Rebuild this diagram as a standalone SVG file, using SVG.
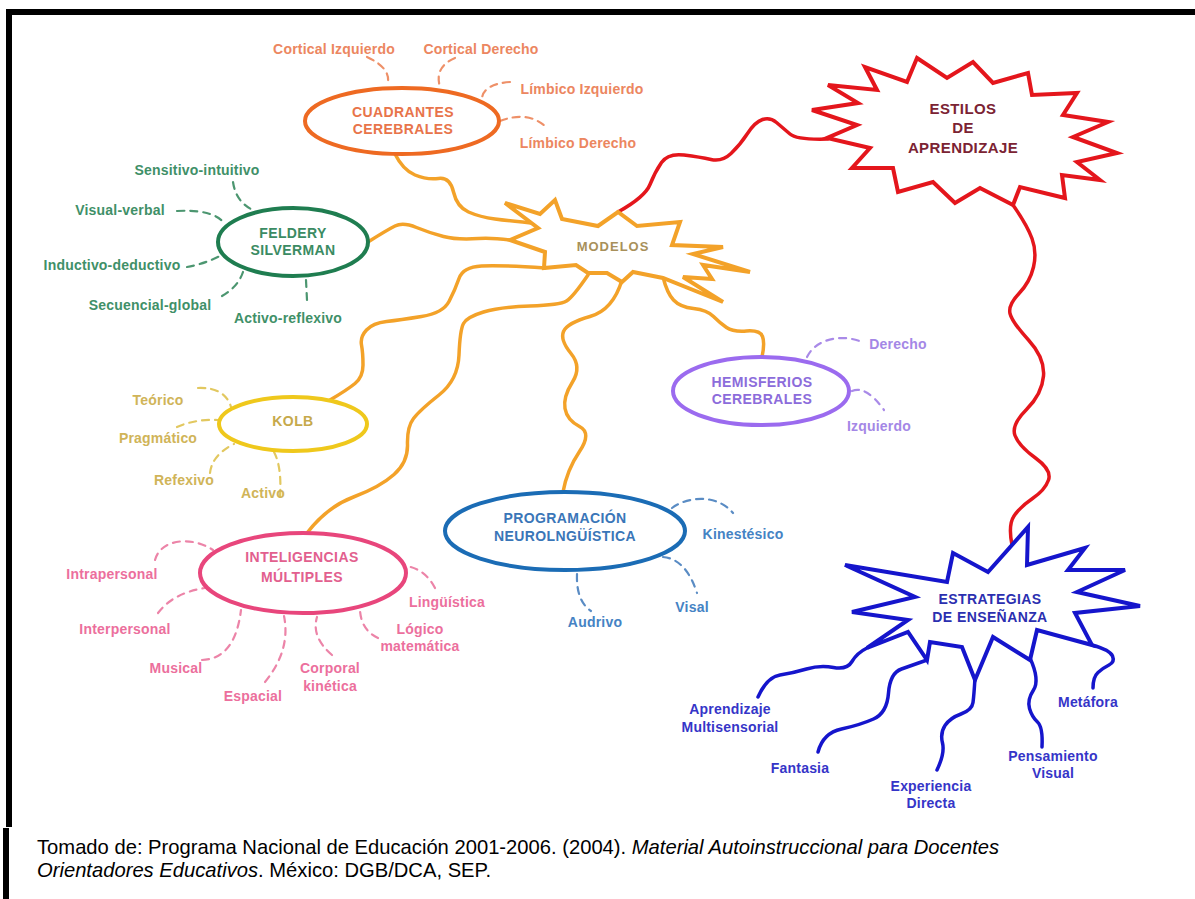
<svg xmlns="http://www.w3.org/2000/svg" width="1195" height="899" viewBox="0 0 1195 899">
<style>
text{font-family:"Liberation Sans",Arial,sans-serif;}
.t{font-weight:bold;font-size:14px;text-anchor:middle;letter-spacing:0.4px}
.l{font-weight:bold;font-size:14px;text-anchor:middle;letter-spacing:0.2px}
.cap{font-size:20.2px;fill:#000}
.w{fill:none;stroke-linecap:round;stroke-linejoin:round}
.o{stroke:#F3A229;stroke-width:3.5}
.r{stroke:#E4161C;stroke-width:3.5}
.b{stroke:#1515CC;stroke-width:3.5}
.d{fill:none;stroke-width:2.2;stroke-dasharray:7 6;stroke-linecap:round}
.el{fill:#fff;stroke-width:4}
</style>
<rect x="0" y="0" width="1195" height="899" fill="#fff"/>
<g id="frame">
<rect x="6" y="9" width="1189" height="6" fill="#000"/>
<rect x="6" y="9" width="6" height="818" fill="#000"/>
<rect x="3" y="828" width="6" height="71" fill="#000"/>
</g>
<g id="connectors">
<path class="w r" d="M618,212 Q645,197 650,184.5 Q655,172 661.5,162.5 Q668,153 684,155 Q700,157 711,159.5 Q722,162 731,153.5 Q740,145 747.5,133.5 Q755,122 762.5,119.5 Q770,117 776.5,122.5 Q783,128 790,134 Q797,140 828,139"/>
<path class="w r" d="M1013,205 Q1027,225 1032,238.5 Q1037,252 1033.5,267 Q1030,282 1019,293.5 Q1008,305 1010,313.5 Q1012,322 1028.5,340 Q1045,358 1043.5,376 Q1042,394 1026.5,409.5 Q1011,425 1015,435.5 Q1019,446 1035.5,458 Q1052,470 1048.5,480 Q1045,490 1032.5,498.5 Q1020,507 1014,516 Q1008,525 1012,545"/>
<path class="w o" d="M395,154 Q403,170 415,175 Q427,180 438.5,178.5 Q450,177 453.5,192 Q457,207 468.5,212 Q480,217 495,219 Q510,221 540,224"/>
<path class="w o" d="M368,242 Q387,230 395,226 Q403,222 416.5,227.5 Q430,233 443.5,236.5 Q457,240 478.5,238.5 Q500,237 540,245"/>
<path class="w o" d="M545,268 Q500,265 481.5,266 Q463,267 459,278.5 Q455,290 449,301.5 Q443,313 421.5,316.5 Q400,320 386.5,321.5 Q373,323 366.5,330 Q360,337 361.5,345 Q363,353 363,365 Q363,377 355,383.5 Q347,390 330,400"/>
<path class="w o" d="M588,275 Q573,297 566.5,301 Q560,305 530,306 Q500,307 483.5,312 Q467,317 463.5,323.5 Q460,330 459,355 Q458,380 439,395 Q420,410 413.5,418.5 Q407,427 407.5,444.5 Q408,462 394,474.5 Q380,487 353.5,497 Q327,507 307,533"/>
<path class="w o" d="M622,280 Q613,310 590,316.5 Q567,323 563.5,331.5 Q560,340 571,353.5 Q582,367 572.5,382 Q563,397 565,408.5 Q567,420 579.5,426.5 Q592,433 579.5,451.5 Q567,470 563,492"/>
<path class="w o" d="M663,277 Q667,293 673.5,300 Q680,307 693.5,308.5 Q707,310 713.5,316.5 Q720,323 726.5,327.5 Q733,332 746.5,331 Q760,330 762.5,336.5 Q765,343 762,357"/>
<path class="w b" d="M867,648 Q857,653 852,661.5 Q847,670 833.5,667.5 Q820,665 806.5,669 Q793,673 780,675 Q767,677 758,697"/>
<path class="w b" d="M927,660 Q913,665 901.5,669 Q890,673 888.5,693 Q887,713 873.5,719 Q860,725 841.5,729 Q823,733 818,752"/>
<path class="w b" d="M975,678 Q974,695 973,702.5 Q972,710 961,714 Q950,718 945,725.5 Q940,733 942.5,743 Q945,753 937,770"/>
<path class="w b" d="M1030,658 Q1040,680 1033.5,690 Q1027,700 1029.5,708.5 Q1032,717 1037.5,722 Q1043,727 1042,747"/>
<path class="w b" d="M1092,645 Q1110,650 1112.5,656 Q1115,662 1109,665 Q1103,668 1098,672.5 Q1093,677 1093,688"/>
<g stroke="#EE9068">
<path class="d" d="M367,57 Q393,69 387,86"/>
<path class="d" d="M455,58 Q434,67 440,87"/>
<path class="d" d="M510,82 Q484,84 482,98"/>
<path class="d" d="M500,121 Q529,110 547,128"/>
</g>
<g stroke="#4C9670">
<path class="d" d="M233,182 Q236,203 255,211"/>
<path class="d" d="M177,211 Q214,209 225,224"/>
<path class="d" d="M187,267 Q204,264 220,256"/>
<path class="d" d="M222,296 Q238,287 243,272"/>
<path class="d" d="M306,280 L307,300"/>
</g>
<g stroke="#E2C860">
<path class="d" d="M198,388 Q225,387 231,407"/>
<path class="d" d="M177,427 Q195,419 218,420"/>
<path class="d" d="M210,473 Q212,455 234,444"/>
<path class="d" d="M280,497 Q282,467 274,452"/>
</g>
<g stroke="#EC84A8">
<path class="d" d="M155,560 C160,540 190,535 213,550"/>
<path class="d" d="M158,613 Q173,593 205,588"/>
<path class="d" d="M202,660 Q235,659 241,610"/>
<path class="d" d="M265,682 Q291,650 284,616"/>
<path class="d" d="M332,655 Q311,637 317,617"/>
<path class="d" d="M378,638 Q361,630 360,610"/>
<path class="d" d="M435,588 Q425,569 406,566"/>
</g>
<g stroke="#5A8CC4">
<path class="d" d="M672,508 C685,498 715,492 733,513"/>
<path class="d" d="M663,557 Q686,559 697,593"/>
<path class="d" d="M577,574 Q576,601 591,611"/>
</g>
<g stroke="#A98AE8">
<path class="d" d="M807,357 C815,340 840,333 862,342"/>
<path class="d" d="M852,391 Q866,385 884,410"/>
</g>
</g>
<g id="estilos">
<polygon points="917,58 947,78 973,62 993,83 1028,73 1032,95 1077,93 1063,115 1108,122 1073,137 1117,153 1077,162 1100,180 1062,175 1065,198 1020,187 1013,205 980,188 955,203 933,182 898,192 893,168 852,168 870,148 827,138 857,125 812,110 858,103 828,85 877,90 865,67 907,82" fill="#fff" stroke="#E4161C" stroke-width="4" stroke-linejoin="miter"/>
<g class="t" fill="#7B2333" style="font-size:15px">
<text x="963" y="114">ESTILOS</text>
<text x="963" y="133">DE</text>
<text x="963" y="153">APRENDIZAJE</text>
</g>
</g>
<g id="modelos">
<polygon points="505,203 540,214 555,200 562,219 598,226 618,212 637,226 680,222 672,245 723,247 693,254 750,272 703,265 712,279 683,277 723,302 663,278 633,272 622,282 607,273 588,273 576,265 544,268 545,252 510,240 538,228" fill="#fff" stroke="#F3A229" stroke-width="4"/>
<text class="t" x="613" y="251" fill="#A8905A" style="font-size:13px;letter-spacing:1px">MODELOS</text>
</g>
<g id="estrategias">
<polygon points="1028,527 1027,565 1085,548 1068,570 1125,570 1077,592 1140,606 1075,613 1092,645 1037,630 1030,660 993,637 975,680 962,647 930,642 927,660 908,632 867,648 908,620 852,612 915,597 845,565 947,582 953,553 988,572" fill="#fff" stroke="#1515CC" stroke-width="4"/>
<g class="t" fill="#2B2FB0">
<text x="990" y="604">ESTRATEGIAS</text>
<text x="990" y="622">DE ENSEÑANZA</text>
</g>
</g>
<g id="cuadrantes">
<ellipse class="el" cx="402" cy="121" rx="97" ry="33" stroke="#EE6A22"/>
<g class="t" fill="#E8744A">
<text x="403" y="117">CUADRANTES</text>
<text x="403" y="134">CEREBRALES</text>
</g>
<g class="l" fill="#EC8660">
<text x="334" y="54">Cortical Izquierdo</text>
<text x="481" y="54">Cortical Derecho</text>
<text x="582" y="94">Límbico Izquierdo</text>
<text x="578" y="148">Límbico Derecho</text>
</g>
</g>
<g id="felder">
<ellipse class="el" cx="293" cy="242" rx="75" ry="34" stroke="#1F7D50"/>
<g class="t" fill="#3B8B63">
<text x="293" y="238">FELDERY</text>
<text x="293" y="255">SILVERMAN</text>
</g>
<g class="l" fill="#3F9068">
<text x="197" y="175">Sensitivo-intuitivo</text>
<text x="120" y="215">Visual-verbal</text>
<text x="112" y="270">Inductivo-deductivo</text>
<text x="150" y="310">Secuencial-global</text>
<text x="288" y="323">Activo-reflexivo</text>
</g>
</g>
<g id="kolb">
<ellipse class="el" cx="293" cy="424" rx="74" ry="27" stroke="#EFC81C"/>
<text class="t" x="293" y="426" fill="#C6A94B">KOLB</text>
<g class="l" fill="#D0B458">
<text x="158" y="405">Teórico</text>
<text x="158" y="443">Pragmático</text>
<text x="184" y="485">Refexivo</text>
<text x="263" y="498">Activo</text>
</g>
</g>
<g id="inteligencias">
<ellipse class="el" cx="303" cy="573" rx="103" ry="40" stroke="#E8467C"/>
<g class="t" fill="#E2608E">
<text x="302" y="562">INTELIGENCIAS</text>
<text x="302" y="582">MÚLTIPLES</text>
</g>
<g class="l" fill="#EC6F9D">
<text x="112" y="579">Intrapersonal</text>
<text x="125" y="634">Interpersonal</text>
<text x="176" y="673">Musical</text>
<text x="253" y="701">Espacial</text>
<text x="330" y="673">Corporal</text>
<text x="330" y="691">kinética</text>
<text x="420" y="634">Lógico</text>
<text x="420" y="651">matemática</text>
<text x="447" y="607">Lingüística</text>
</g>
</g>
<g id="programacion">
<ellipse class="el" cx="565" cy="531" rx="120" ry="39" stroke="#1B6CB5"/>
<g class="t" fill="#3A76B8">
<text x="565" y="523">PROGRAMACIÓN</text>
<text x="565" y="541">NEUROLNGÜÍSTICA</text>
</g>
<g class="l" fill="#4583C4">
<text x="743" y="539">Kinestésico</text>
<text x="692" y="612">Visal</text>
<text x="595" y="627">Audrivo</text>
</g>
</g>
<g id="hemisferios">
<ellipse class="el" cx="761" cy="391" rx="88" ry="34" stroke="#9B6BEF"/>
<g class="t" fill="#8C6CDB">
<text x="762" y="387">HEMISFERIOS</text>
<text x="762" y="404">CEREBRALES</text>
</g>
<g class="l" fill="#A487E6">
<text x="898" y="349">Derecho</text>
<text x="879" y="431">Izquierdo</text>
</g>
</g>
<g id="estrategias-items" class="l" fill="#3535C8">
<text x="730" y="714">Aprendizaje</text>
<text x="730" y="732">Multisensorial</text>
<text x="800" y="773">Fantasia</text>
<text x="931" y="791">Experiencia</text>
<text x="931" y="808">Directa</text>
<text x="1053" y="761">Pensamiento</text>
<text x="1053" y="778">Visual</text>
<text x="1088" y="707">Metáfora</text>
</g>
<g id="caption" class="cap">
<text x="37" y="854">Tomado de: Programa Nacional de Educación 2001-2006. (2004). <tspan font-style="italic">Material Autoinstruccional para Docentes</tspan></text>
<text x="37" y="877"><tspan font-style="italic">Orientadores Educativos</tspan>. México: DGB/DCA, SEP.</text>
</g>
</svg>
